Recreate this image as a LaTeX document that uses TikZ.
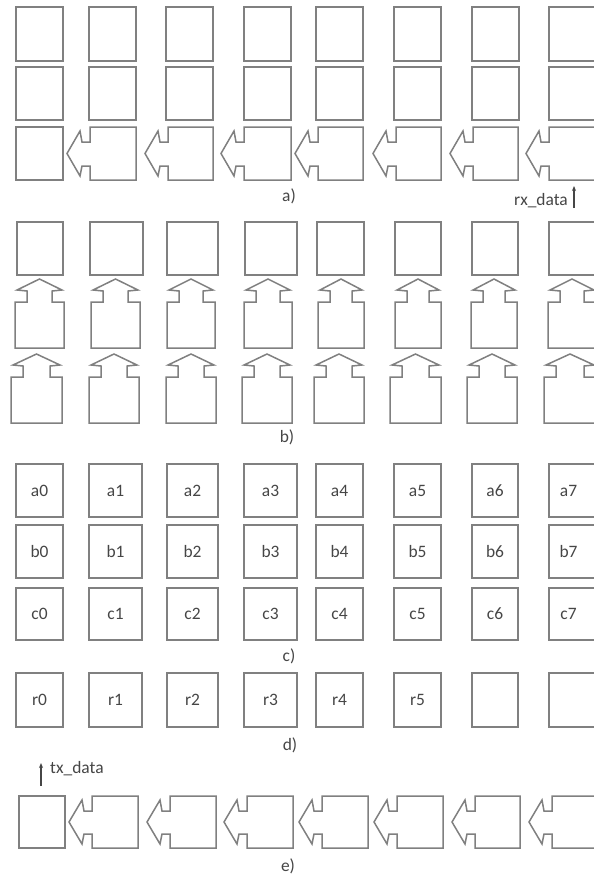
\documentclass[tikz,border=0pt]{standalone}
\usepackage{fontspec}
\setmainfont{Carlito}
\usetikzlibrary{arrows.meta}
\definecolor{lncol}{RGB}{128,128,128}
\definecolor{txcol}{RGB}{70,70,70}
\newcommand\LArrowCell[4]{% L T R B
  \draw[cellline] (#3,#2) -- (#1,#2) -- (#1,#2+15) -- (#1-8,#2+15) -- (#1-10,#2+4)
    -- (#1-23,{(#2+#4)/2}) -- (#1-10,#4-4) -- (#1-8,#4-14) -- (#1,#4-14) -- (#1,#4) -- (#3,#4) -- cycle;}
\newcommand\UArrowCell[4]{% L T R B
  \draw[cellline] (#1,#4) -- (#1,#2) -- (#1+12,#2) -- (#1+12,#2-11) -- (#1+2,#2-12)
    -- ({(#1+#3)/2},#2-23) -- (#3-2,#2-12) -- (#3-12,#2-11) -- (#3-12,#2) -- (#3,#2) -- (#3,#4) -- cycle;}
\begin{document}
\begin{tikzpicture}[x=1bp,y=-1bp,
  cellline/.style={draw=lncol, line width=1.5bp, line join=miter},
  lbl/.style={text=txcol, font=\fontsize{17.5}{19}\selectfont, inner sep=0pt},
  sig/.style={draw=txcol, line width=1.1bp, -{Stealth[length=5bp,width=4bp]}}]
\useasboundingbox (0,0) rectangle (594,876);
\clip (0,0) rectangle (594,876);
\fill[white] (0,0) rectangle (594,876);
% ---------- a) ----------
\foreach \l/\r in {16/63,89/136,166/213,244/291,316/363,394/441,472/519,549/597}{
  \draw[cellline] (\l,7) rectangle (\r,61);
  \draw[cellline] (\l,67) rectangle (\r,120);
}
\draw[cellline] (16,127) rectangle (63,180);
\foreach \l/\r in {90/136,168/213,244/291,318/363,396/441,473/518,549/597}{
  \LArrowCell{\l}{127}{\r}{180}
}
\node[lbl] (la) at (289,196) {a)};
\coordinate (rxs) at (574,208);
\coordinate (rxe) at (574,186);
\draw[sig] (rxs) -- (rxe);
\node[lbl, anchor=base east] (rx) at (568,205) {rx\_data};
% ---------- b) ----------
\foreach \l/\r in {17/63,90/143,167/218,245/297,317/364,395/441,472/518,549/597}{
  \draw[cellline] (\l,222) rectangle (\r,275);
}
\foreach \l/\r in {15/64,91/140,167/215,244/292,318/364,395/441,471/517,548/596}{
  \UArrowCell{\l}{302}{\r}{348}
}
\foreach \l/\r in {11/62,89/139,166/216,242/292,314/364,390/441,467/517,544/596}{
  \UArrowCell{\l}{377}{\r}{423}
}
\node[lbl] (lb) at (287,437) {b)};
% ---------- c) ----------
\foreach \l/\r in {16/63,89/142,167/218,244/297,316/363,394/441,472/518,549/597}{
  \draw[cellline] (\l,464) rectangle (\r,517);
  \draw[cellline] (\l,525) rectangle (\r,578);
  \draw[cellline] (\l,588) rectangle (\r,640);
}
\foreach \l/\r [count=\i from 0] in {16/63,89/142,167/218,244/297,316/363,394/441,472/518,549/588}{
  \node[lbl] (a\i) at ({(\l+\r)/2},490.5) {a\i};
  \node[lbl] (b\i) at ({(\l+\r)/2},551.5) {b\i};
  \node[lbl] (c\i) at ({(\l+\r)/2},614) {c\i};
}
\node[lbl] (lc) at (289,656) {c)};
% ---------- d) ----------
\foreach \l/\r in {16/63,89/142,167/218,244/297,316/363,394/441,472/518,549/597}{
  \draw[cellline] (\l,673) rectangle (\r,727);
}
\foreach \l/\r [count=\i from 0] in {16/63,89/142,167/218,244/297,316/363,394/441}{
  \node[lbl] (r\i) at ({(\l+\r)/2},700) {r\i};
}
\node[lbl] (ld) at (290,745) {d)};
% ---------- e) ----------
\coordinate (txs) at (41,786);
\coordinate (txe) at (41,763);
\draw[sig] (txs) -- (txe);
\node[lbl, anchor=base west] (tx) at (50,773) {tx\_data};
\draw[cellline] (19,796) rectangle (65,848);
\foreach \l/\r in {92/138,170/216,247/293,322/368,397/443,475/520,552/597}{
  \LArrowCell{\l}{796}{\r}{848}
}
\node[lbl] (le) at (288,866) {e)};
\end{tikzpicture}
\end{document}
